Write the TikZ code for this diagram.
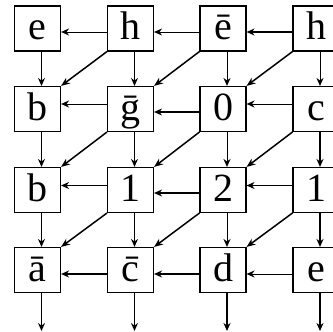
\documentclass[tikz,border=0pt]{standalone}
\usepackage{fontspec}
\setmainfont{Liberation Serif}
\usetikzlibrary{arrows.meta}
\begin{document}
\begin{tikzpicture}[x=1pt,y=-1pt,
  cell/.style={draw,line width=1.1pt,minimum width=46pt,minimum height=45pt,
    inner sep=0pt,text height=33pt,text depth=10pt,
    font=\fontsize{40}{48}\selectfont},
  lnk/.style={line width=1pt,-{Stealth[length=8pt,width=7pt]}},
  lnkb/.style={line width=1.6pt,-{Stealth[length=8pt,width=7pt]}},
  dlnk/.style={line width=1.5pt,-{Stealth[length=9pt,width=7pt]}}]
\useasboundingbox (0,0) rectangle (333,332);
\clip (0,0) rectangle (333,332);

% grid of cells: rows r1..r4, columns c1..c4
\node[cell] (n11) at (37.5,28.5) {e};
\node[cell] (n12) at (130.5,28.5) {h};
\node[cell] (n13) at (223,28.5) {\=e};
\node[cell] (n14) at (316,28.5) {h};

\node[cell] (n21) at (37.5,109) {b};
\node[cell] (n22) at (130.5,109) {\=g};
\node[cell] (n23) at (223,109) {0};
\node[cell] (n24) at (316,109) {c};

\node[cell] (n31) at (37.5,190) {b};
\node[cell] (n32) at (130.5,190) {1};
\node[cell] (n33) at (223,190) {2};
\node[cell] (n34) at (316,190) {1};

\node[cell] (n41) at (37.5,270) {\=a};
\node[cell] (n42) at (130.5,270) {\=c};
\node[cell] (n43) at (223,270) {d};
\node[cell] (n44) at (316,270) {e};

% loose ends of the outgoing arrows
\coordinate (o1) at (41.5,331);
\coordinate (o2) at (134.5,331);
\coordinate (o3) at (227,331);
\coordinate (o4) at (320,331);

% horizontal links (right to left)
\draw[lnk]  ([yshift=-3.5pt]n12.west) -- ([yshift=-3.5pt]n11.east);
\draw[lnk]  ([yshift=-3.5pt]n13.west) -- ([yshift=-3.5pt]n12.east);
\draw[lnkb] ([yshift=-3.5pt]n14.west) -- ([yshift=-3.5pt]n13.east);

\draw[lnk]  ([yshift=5pt]n22.west) -- ([yshift=5pt]n21.east);
\draw[lnkb] ([yshift=-3pt]n23.west) -- ([yshift=-3pt]n22.east);
\draw[lnk]  ([yshift=5pt]n24.west) -- ([yshift=5pt]n23.east);

\draw[lnk]  ([yshift=4.5pt]n32.west) -- ([yshift=4.5pt]n31.east);
\draw[lnkb] ([yshift=-3pt]n33.west) -- ([yshift=-3pt]n32.east);
\draw[lnk]  ([yshift=4.5pt]n34.west) -- ([yshift=4.5pt]n33.east);

\draw[lnkb] ([yshift=-4pt]n42.west) -- ([yshift=-4pt]n41.east);
\draw[lnkb] ([yshift=-4pt]n43.west) -- ([yshift=-4pt]n42.east);
\draw[lnk]  ([yshift=-4pt]n44.west) -- ([yshift=-4pt]n43.east);

% vertical links (top to bottom)
\draw[lnk]  ([xshift=4pt]n11.south) -- ([xshift=4pt]n21.north);
\draw[lnk]  ([xshift=4pt]n12.south) -- ([xshift=4pt]n22.north);
\draw[lnk]  ([xshift=4pt]n13.south) -- ([xshift=4pt]n23.north);
\draw[lnk]  ([xshift=4pt]n14.south) -- ([xshift=4pt]n24.north);

\draw[lnk]  ([xshift=4pt]n21.south) -- ([xshift=4pt]n31.north);
\draw[lnkb] ([xshift=4pt]n22.south) -- ([xshift=4pt]n32.north);
\draw[lnk]  ([xshift=4pt]n23.south) -- ([xshift=4pt]n33.north);
\draw[lnkb] ([xshift=4pt]n24.south) -- ([xshift=4pt]n34.north);

\draw[lnk]  ([xshift=4pt]n31.south) -- ([xshift=4pt]n41.north);
\draw[lnkb] ([xshift=4pt]n32.south) -- ([xshift=4pt]n42.north);
\draw[lnk]  ([xshift=4pt]n33.south) -- ([xshift=4pt]n43.north);
\draw[lnkb] ([xshift=4pt]n34.south) -- ([xshift=4pt]n44.north);

\draw[lnkb] ([xshift=4pt]n41.south) -- (o1);
\draw[lnkb] ([xshift=4pt]n42.south) -- (o2);
\draw[lnkb] ([xshift=4pt]n43.south) -- (o3);
\draw[lnkb] ([xshift=4pt]n44.south) -- (o4);

% diagonal links (corner to corner, down-left)
\draw[dlnk] (n12.south west) -- (n21.north east);
\draw[dlnk] (n13.south west) -- (n22.north east);
\draw[dlnk] (n14.south west) -- (n23.north east);
\draw[dlnk] (n22.south west) -- (n31.north east);
\draw[dlnk] (n23.south west) -- (n32.north east);
\draw[dlnk] (n24.south west) -- (n33.north east);
\draw[dlnk] (n32.south west) -- (n41.north east);
\draw[dlnk] (n33.south west) -- (n42.north east);
\draw[dlnk] (n34.south west) -- (n43.north east);
\end{tikzpicture}
\end{document}
